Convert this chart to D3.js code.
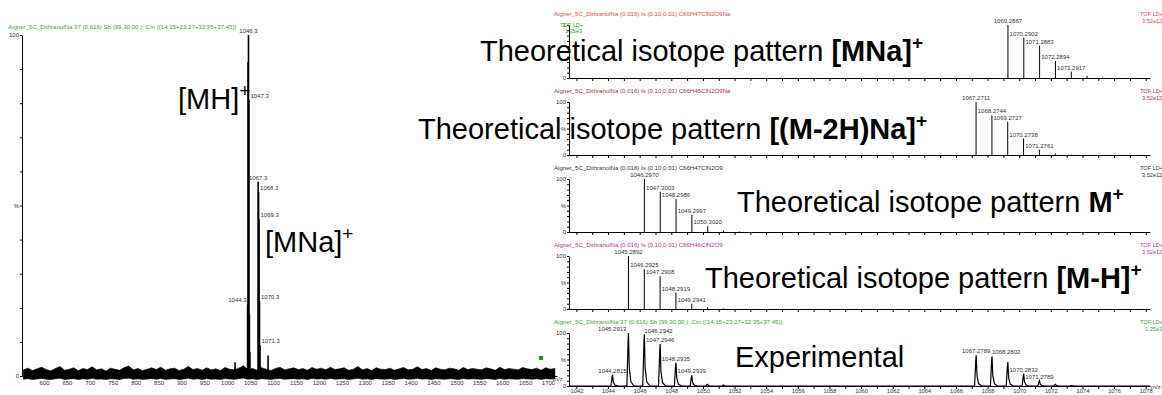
<!DOCTYPE html>
<html>
<head>
<meta charset="utf-8">
<script src="https://cdn.jsdelivr.net/npm/d3@7"></script>
<style>
body{margin:0;background:#fff}
text{font-family:"Liberation Sans",Arial,sans-serif}
</style>
</head>
<body>
<svg></svg>
<script>
// ---- overview spectrum (left) ----
const overviewTitle = "Aigner_5C_DithranolNa  37 (0.616) Sb (99,30.00 ); Cm ((14:15+23:27+32:35+37:45))"
const overviewMz = [1017, 1044.3, 1045.3, 1046.3, 1047.3, 1048.3, 1049.3, 1067.3, 1068.3, 1069.3, 1070.3, 1071.3, 1072.3, 1089]
const overviewInt = [4, 21, 92, 100, 81, 18, 7, 57, 54, 46, 22, 9, 3, 6]
const overviewLabels = ["1044.3", "1046.3", "1047.3", "1067.3", "1068.3", "1069.3", "1070.3", "1071.3"]
const overviewTicks = [600,650,700,750,800,850,900,950,1000,1050,1100,1150,1200,1250,1300,1350,1400,1450,1500,1550,1600,1650,1700]
// noise band top (%), read every 10 m/z from 555
const noiseStart = 555
const noiseLevel = [
  1.8,2.3,1.6,2.1,2.6,1.9,1.5,2.2,2.8,1.7,2.0,2.4,1.6,2.2,1.9,2.7,1.8,2.1,1.5,2.3,
  2.0,1.7,2.5,2.9,1.8,2.2,1.6,2.0,2.4,1.9,2.6,1.7,2.1,2.3,1.6,2.0,2.8,1.9,2.2,1.7,
  2.4,1.8,2.1,1.6,2.5,2.0,1.8,2.3,3.0,1.9,2.2,1.7,2.4,2.0,1.6,2.2,2.6,1.8,2.1,2.4,
  1.9,2.2,1.7,2.5,2.0,2.3,1.8,2.6,1.9,2.1,2.4,1.7,2.0,2.8,1.8,2.2,1.6,2.4,2.0,1.9,
  2.3,1.7,2.1,2.5,1.8,2.0,2.7,1.9,2.2,1.6,2.4,2.0,1.8,2.3,2.1,1.7,2.5,1.9,2.2,2.0,
  1.8,2.4,2.1,1.7,2.6,1.9,2.2,2.0,1.8,2.5,2.1,1.9,2.3,1.7,2.4,2.0,2.2]

// ---- zoomed panels (right) ----
const panelTitles = [
  "Aigner_5C_DithranolNa  (0.016) Is (0.10,0.01) C66H47ClN2O9Na",
  "Aigner_5C_DithranolNa  (0.016) Is (0.10,0.01) C66H45ClN2O9Na",
  "Aigner_5C_DithranolNa  (0.016) Is (0.10,0.01) C66H47ClN2O9",
  "Aigner_5C_DithranolNa  (0.016) Is (0.10,0.01) C66H46ClN2O9",
  "Aigner_5C_DithranolNa  37 (0.616) Sb (99,30.00 ); Cm ((14:15+23:27+32:35+37:45))"
]
const panelScale = ["3.52e12", "3.52e12", "3.52e12", "3.52e12", "1.25e3"]
const panelColors = ["#f0474a", "#a8353d", "#333333", "#a33aa3", "#3aa53a"]

const mnaMz = [1069.2867, 1070.2902, 1071.2883, 1072.2894, 1073.2917, 1074.29, 1075.29]
const mnaInt = [100, 76, 61, 32, 12, 4, 1]
const m2hnaMz = [1067.2711, 1068.2744, 1069.2727, 1070.2738, 1071.2761, 1072.28, 1073.28]
const m2hnaInt = [100, 75, 63, 31, 10, 3, 1]
const mMz = [1046.2970, 1047.3003, 1048.2986, 1049.2997, 1050.3020, 1051.30, 1052.30]
const mInt = [100, 76, 62, 32, 11, 3, 1]
const mhMz = [1045.2892, 1046.2925, 1047.2908, 1048.2919, 1049.2941, 1050.29, 1051.29]
const mhInt = [100, 75, 62, 31, 10, 3, 1]
const expMz = [1044.2815, 1045.2913, 1046.2942, 1047.2946, 1048.2935, 1049.2939, 1050.29, 1051.30, 1067.2789, 1068.2802, 1069.2800, 1070.2832, 1071.2789, 1072.29, 1073.29]
const expInt = [21, 100, 97, 79, 44, 20, 3, 2, 58, 56, 45, 23, 10, 3, 1]
const zoomTicks = [1042,1044,1046,1048,1050,1052,1054,1056,1058,1060,1062,1064,1066,1068,1070,1072,1074,1076,1078]

const panelNames = ["Theoretical isotope pattern ", "Theoretical isotope pattern ", "Theoretical isotope pattern ", "Theoretical isotope pattern ", "Experimental"]
const panelIons = ["[MNa]", "[(M-2H)Na]", "M", "[M-H]", ""]

const svg = d3.select("svg").attr("width", 1162).attr("height", 395)
const small = 6

// ================= left overview =================
const ox = d3.scaleLinear().domain([552, 1719.6]).range([22, 557])
const oy = d3.scaleLinear().domain([0, 100]).range([376, 35])

svg.append("text").attr("x", 8).attr("y", 29).attr("font-size", 6.1).attr("fill", "#3aa53a").text(overviewTitle)

svg.append("g").attr("transform", "translate(0,376)")
  .call(d3.axisBottom(ox).tickValues(overviewTicks).tickSize(3).tickSizeOuter(0).tickPadding(2).tickFormat(d3.format("d")))
svg.append("g").attr("transform", "translate(0,376)")
  .call(d3.axisBottom(ox).tickValues(d3.range(560, 1720, 10)).tickSize(1.5).tickFormat(""))
  .select(".domain").remove()
svg.append("g").attr("transform", "translate(22,0)")
  .call(d3.axisLeft(oy).tickValues(d3.range(0, 101, 10)).tickSize(2).tickSizeOuter(0).tickPadding(1)
    .tickFormat(d => d === 100 ? "100" : d === 50 ? "%" : d === 0 ? "0" : ""))
svg.selectAll(".tick text").attr("font-size", small).attr("fill", "#333")

// noise band
const noise = noiseLevel.map((v, i) => [noiseStart + i * 10, v])
svg.append("path")
  .datum(noise)
  .attr("d", d3.area().x(d => ox(d[0])).y0(d => oy(-0.9 + (d[1] - 2) * 0.3)).y1(d => oy(d[1])))
  .attr("fill", "#000").attr("stroke", "#000").attr("stroke-width", 0.6)

const overview = overviewMz.map((m, i) => ({mz: m, v: overviewInt[i], label: m.toFixed(1)}))
svg.selectAll(".opeak").data(overview).enter().append("line")
  .attr("x1", d => ox(d.mz)).attr("x2", d => ox(d.mz))
  .attr("y1", oy(0)).attr("y2", d => oy(d.v))
  .attr("stroke", "#000").attr("stroke-width", 1.6)

const oAnchor = {"1044.3": "end", "1046.3": "middle", "1067.3": "middle"}
svg.selectAll(".olabel").data(overview.filter(d => overviewLabels.includes(d.label))).enter().append("text")
  .attr("x", d => ox(d.mz) + (oAnchor[d.label] === "end" ? -1 : oAnchor[d.label] === "middle" ? 0 : 1.5))
  .attr("y", d => oy(d.v) - 2)
  .attr("text-anchor", d => oAnchor[d.label] || "start")
  .attr("font-size", small).attr("fill", "#333")
  .text(d => d.label)

svg.append("text").attr("x", 553).attr("y", 381).attr("font-size", small).attr("fill", "#333").text("m/z")

// ================= right panels =================
const zx = d3.scaleLinear().domain([1041.53, 1078.27]).range([569, 1150])
const panelMz = [mnaMz, m2hnaMz, mMz, mhMz, expMz]
const panelInt = [mnaInt, m2hnaInt, mInt, mhInt, expInt]
const expAnchor = {"1045.2913": "end", "1046.2942": "start", "1068.2802": "start"}

panelTitles.forEach((title, i) => {
  const top = 25 + i * 77, base = top + 53
  const zy = d3.scaleLinear().domain([0, 100]).range([base, top])
  const g = svg.append("g")
  const col = panelColors[i]

  g.append("text").attr("x", 554).attr("y", top - 9).attr("font-size", 6.1).attr("fill", col).text(title)
  g.append("text").attr("x", 1140).attr("y", top - 9).attr("font-size", 5.6).attr("fill", col).text("TOF LD+")
  g.append("text").attr("x", i === 4 ? 1145 : 1142).attr("y", top - 2).attr("font-size", 5.6).attr("fill", col).text(panelScale[i])

  // axes
  g.append("g").attr("transform", `translate(0,${base})`)
    .call(d3.axisBottom(zx).tickValues(d3.range(1042, 1079, 1)).tickSize(3).tickSizeOuter(0).tickPadding(0)
      .tickFormat(d => (i === 4 && zoomTicks.includes(d)) ? d : ""))
    .selectAll("text").attr("font-size", 5.8).attr("fill", "#333")
  g.append("g").attr("transform", "translate(569,0)")
    .call(d3.axisLeft(zy).tickValues(d3.range(0, 101, 10)).tickSize(2).tickSizeOuter(0).tickPadding(1)
      .tickFormat(d => d === 100 ? (i === 0 ? "1" : "100") : d === 50 ? (i === 0 ? "" : "%") : d === 0 ? "0" : ""))
    .selectAll("text").attr("font-size", small).attr("fill", "#333")

  const peaks = panelMz[i].map((m, j) => ({mz: m, v: panelInt[i][j], label: m.toFixed(4)}))
  if (i < 4) {
    g.selectAll(".stick").data(peaks).enter().append("line")
      .attr("x1", d => zx(d.mz)).attr("x2", d => zx(d.mz))
      .attr("y1", zy(0)).attr("y2", d => zy(d.v))
      .attr("stroke", "#000").attr("stroke-width", 1)
    g.selectAll(".plabel").data(peaks.filter(d => d.v >= 10)).enter().append("text")
      .attr("x", d => zx(d.mz)).attr("y", d => zy(d.v) - 2)
      .attr("text-anchor", "middle").attr("font-size", small).attr("fill", "#333")
      .text(d => d.label)
  } else {
    // profile peaks
    const prof = [[1041.53, 0]]
    peaks.forEach(d => {
      prof.push([d.mz - 0.1, 0], [d.mz - 0.03, d.v * 0.8], [d.mz, d.v], [d.mz + 0.05, d.v * 0.35],
        [d.mz + 0.15, d.v * 0.08], [d.mz + 0.35, 0])
    })
    prof.push([1078.27, 0])
    g.append("path").datum(prof)
      .attr("d", d3.line().x(d => zx(d[0])).y(d => zy(d[1])))
      .attr("fill", "none").attr("stroke", "#000").attr("stroke-width", 1.2)
    g.selectAll(".plabel").data(peaks.filter(d => d.v >= 10 && d.label !== "1069.2800")).enter().append("text")
      .attr("x", d => zx(d.mz) + (expAnchor[d.label] === "end" ? -2 : 0))
      .attr("y", d => zy(d.v) - 2)
      .attr("text-anchor", d => expAnchor[d.label] || "middle")
      .attr("font-size", small).attr("fill", "#333")
      .text(d => d.label)
    g.append("rect").attr("x", 539).attr("y", top + 23).attr("width", 4).attr("height", 4).attr("fill", "#1a9a1a")
    g.append("text").attr("x", 1151).attr("y", base + 3).attr("font-size", small).attr("fill", "#333").text("m/z")
  }
})

// green leftover label in the top panel
svg.append("text").attr("x", 560).attr("y", 27).attr("font-size", 5.6).attr("fill", "#3aa53a").text("TOF LD+")
svg.append("text").attr("x", 565).attr("y", 33).attr("font-size", 5.6).attr("fill", "#3aa53a").text("1.25e3")

// ================= big annotations =================
const bigPos = [[480, 61], [418, 139], [737, 212], [705, 288], [735, 367]]
panelNames.forEach((name, i) => {
  const t = svg.append("text").attr("x", bigPos[i][0]).attr("y", bigPos[i][1])
    .attr("font-size", 29).attr("fill", "#000")
  t.append("tspan").text(name)
  if (panelIons[i]) {
    t.append("tspan").attr("font-weight", "bold").text(panelIons[i])
    t.append("tspan").attr("font-weight", "bold").attr("font-size", 19).attr("dy", -12).text("+")
  }
})
const leftIons = [["[MH]", 178, 109], ["[MNa]", 265, 252]]
leftIons.forEach(d => {
  const t = svg.append("text").attr("x", d[1]).attr("y", d[2]).attr("font-size", 29).attr("fill", "#000")
  t.append("tspan").text(d[0])
  t.append("tspan").attr("font-size", 19).attr("dy", -12).text("+")
})
</script>
</body>
</html>
